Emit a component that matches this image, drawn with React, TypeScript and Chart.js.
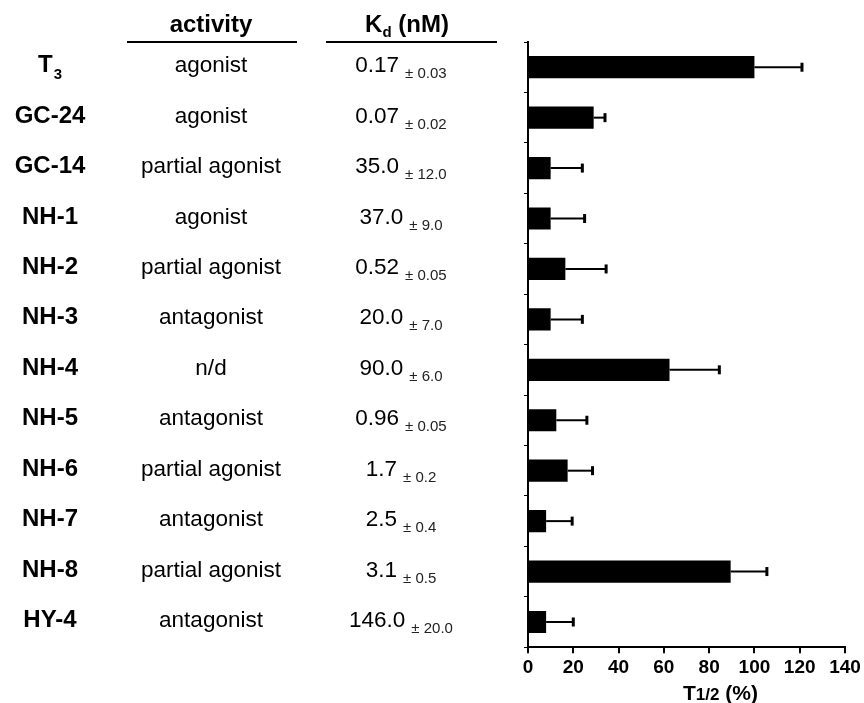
import React, { useEffect, useRef } from "react";
import { Chart, registerables } from "chart.js";

Chart.register(...registerables);

const compoundBase = ["T", "GC-24", "GC-14", "NH-1", "NH-2", "NH-3", "NH-4", "NH-5", "NH-6", "NH-7", "NH-8", "HY-4"];
const compoundSub = ["3", "", "", "", "", "", "", "", "", "", "", ""];
const activities = [
  "agonist", "agonist", "partial agonist", "agonist", "partial agonist", "antagonist",
  "n/d", "antagonist", "partial agonist", "antagonist", "partial agonist", "antagonist",
];
const kdMain = ["0.17", "0.07", "35.0", "37.0", "0.52", "20.0", "90.0", "0.96", "1.7", "2.5", "3.1", "146.0"];
const kdErr = ["0.03", "0.02", "12.0", "9.0", "0.05", "7.0", "6.0", "0.05", "0.2", "0.4", "0.5", "20.0"];
const t12 = [100, 29, 10, 10, 16.5, 10, 62.5, 12.5, 17.5, 8, 89.5, 8];
const t12Err = [21, 5, 14, 15, 18, 14, 22, 13.5, 11, 11.5, 16, 12];
const xTicksMin = 0;
const xTicksMax = 140;
const xTickStep = 20;

const FONT = '"Liberation Sans", Arial, Helvetica, sans-serif';

const tablePlugin = {
  id: "tableAndErrors",
  afterDraw(chart: any) {
    const ctx = chart.ctx as CanvasRenderingContext2D;
    const xs = chart.scales.x;
    const ys = chart.scales.y;
    ctx.save();
    ctx.fillStyle = "#000";
    ctx.strokeStyle = "#000";

    // error bars
    t12.forEach((v, i) => {
      const y = ys.getPixelForValue(i);
      const x0 = xs.getPixelForValue(v);
      const x1 = xs.getPixelForValue(v + t12Err[i]);
      ctx.lineWidth = 2;
      ctx.beginPath();
      ctx.moveTo(x0, y);
      ctx.lineTo(x1, y);
      ctx.stroke();
      ctx.lineWidth = 3;
      ctx.beginPath();
      ctx.moveTo(x1, y - 4.5);
      ctx.lineTo(x1, y + 4.5);
      ctx.stroke();
    });

    // headers
    ctx.textBaseline = "alphabetic";
    ctx.textAlign = "center";
    ctx.font = `bold 24px ${FONT}`;
    ctx.fillText("activity", 211, 32);
    ctx.textAlign = "left";
    const kMain = "K";
    const kSub = "d";
    const kRest = " (nM)";
    ctx.font = `bold 24px ${FONT}`;
    const wK = ctx.measureText(kMain).width;
    const wR = ctx.measureText(kRest).width;
    ctx.font = `bold 15px ${FONT}`;
    const wD = ctx.measureText(kSub).width;
    let hx = 407 - (wK + wD + wR) / 2;
    ctx.font = `bold 24px ${FONT}`;
    ctx.fillText(kMain, hx, 32);
    hx += wK;
    ctx.font = `bold 15px ${FONT}`;
    ctx.fillText(kSub, hx, 37);
    hx += wD;
    ctx.font = `bold 24px ${FONT}`;
    ctx.fillText(kRest, hx, 32);

    // underlines
    ctx.lineWidth = 2;
    ctx.beginPath();
    ctx.moveTo(127, 42);
    ctx.lineTo(297, 42);
    ctx.moveTo(326, 42);
    ctx.lineTo(497, 42);
    ctx.stroke();

    // rows
    compoundBase.forEach((name, i) => {
      const yb = ys.getPixelForValue(i) + 5;
      ctx.font = `bold 24px ${FONT}`;
      const wn = ctx.measureText(name).width;
      ctx.font = `bold 15px ${FONT}`;
      const ws = compoundSub[i] ? ctx.measureText(compoundSub[i]).width + 1 : 0;
      let nx = 50 - (wn + ws) / 2;
      ctx.textAlign = "left";
      ctx.font = `bold 24px ${FONT}`;
      ctx.fillText(name, nx, yb);
      if (compoundSub[i]) {
        nx += wn + 1;
        ctx.font = `bold 15px ${FONT}`;
        ctx.fillText(compoundSub[i], nx, yb + 7);
      }
      // activity
      ctx.textAlign = "center";
      ctx.font = `22.5px ${FONT}`;
      ctx.fillText(activities[i], 211, yb);
      // Kd
      ctx.textAlign = "left";
      ctx.font = `22.5px ${FONT}`;
      const w1 = ctx.measureText(kdMain[i]).width;
      const errText = "\u00B1 " + kdErr[i];
      ctx.font = `15px ${FONT}`;
      const w2 = ctx.measureText(errText).width;
      const gap = 6;
      let kx = 401 - (w1 + gap + w2) / 2;
      ctx.font = `22.5px ${FONT}`;
      ctx.fillText(kdMain[i], kx, yb);
      kx += w1 + gap;
      ctx.font = `15px ${FONT}`;
      ctx.fillStyle = "#222";
      ctx.fillText(errText, kx, yb + 6);
      ctx.fillStyle = "#000";
    });

    // x-axis title T1/2 (%)
    const ca = chart.chartArea;
    const tMain = "T";
    const tSub = "1/2";
    const tRest = " (%)";
    ctx.font = `bold 21px ${FONT}`;
    const a = ctx.measureText(tMain).width;
    const c = ctx.measureText(tRest).width;
    ctx.font = `bold 17px ${FONT}`;
    const b = ctx.measureText(tSub).width;
    let tx = (ca.left + ca.right) / 2 + 34 - (a + b + c) / 2;
    const ty = ca.bottom + 53;
    ctx.textAlign = "left";
    ctx.font = `bold 21px ${FONT}`;
    ctx.fillText(tMain, tx, ty);
    tx += a;
    ctx.font = `bold 17px ${FONT}`;
    ctx.fillText(tSub, tx, ty);
    tx += b;
    ctx.font = `bold 21px ${FONT}`;
    ctx.fillText(tRest, tx, ty);

    ctx.restore();
  },
};

export default function App() {
  const ref = useRef<HTMLCanvasElement | null>(null);
  useEffect(() => {
    if (!ref.current) return;
    const chart = new Chart(ref.current, {
      type: "bar",
      data: {
        labels: compoundBase.map((b, i) => b + compoundSub[i]),
        datasets: [
          {
            data: t12,
            backgroundColor: "#000",
            borderWidth: 0,
            barPercentage: 0.44,
            categoryPercentage: 1,
          },
        ],
      },
      options: {
        indexAxis: "y",
        animation: false,
        responsive: true,
        maintainAspectRatio: false,
        layout: { padding: { left: 524, top: 42, right: 19, bottom: 21 } },
        plugins: { legend: { display: false }, tooltip: { enabled: false }, title: { display: false } },
        scales: {
          x: {
            type: "linear",
            min: xTicksMin,
            max: xTicksMax,
            ticks: {
              stepSize: xTickStep,
              color: "#000",
              padding: 3,
              font: { family: FONT, size: 19, weight: "bold" },
            },
            grid: { drawOnChartArea: false, drawTicks: true, tickLength: 6, color: "#000", lineWidth: 2 },
            border: { display: true, color: "#000", width: 2 },
          },
          y: {
            type: "category",
            offset: true,
            ticks: { display: false },
            grid: { drawOnChartArea: false, drawTicks: true, tickLength: 4, color: "#000", lineWidth: 1, offset: true },
            border: { display: true, color: "#000", width: 2 },
          },
        },
      },
      plugins: [tablePlugin],
    });
    return () => chart.destroy();
  }, []);
  return (
    <div style={{ position: "absolute", left: 0, top: 0, width: "864px", height: "703px", background: "#fff" }}>
      <canvas ref={ref} style={{ display: "block" }} />
    </div>
  );
}
